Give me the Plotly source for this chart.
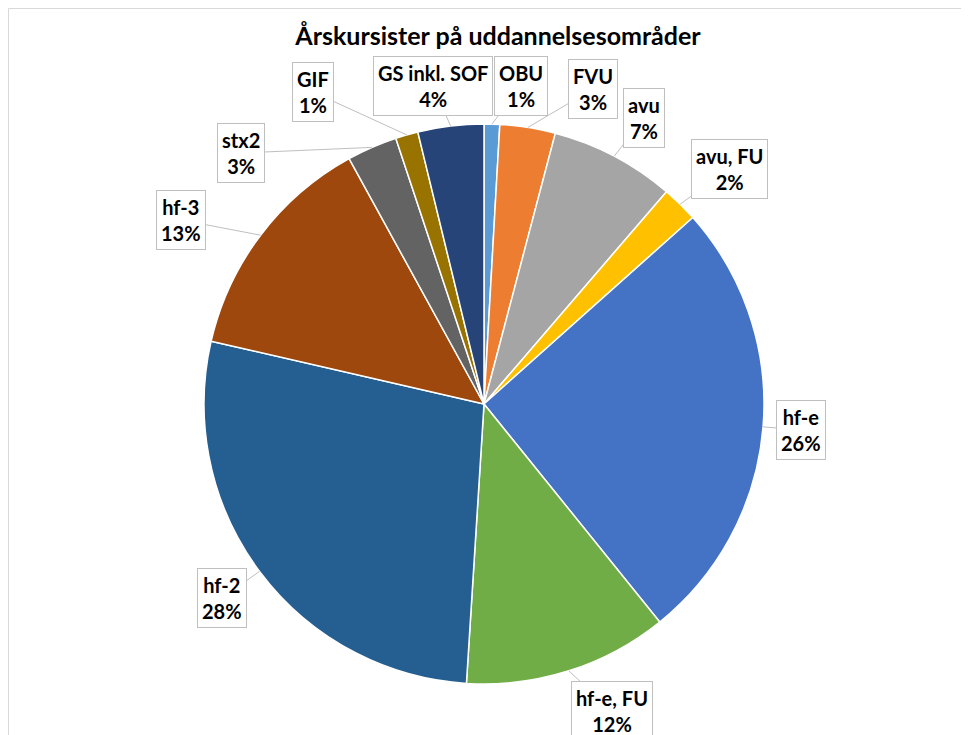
import math
import plotly.graph_objects as go

# ---- data ----
categories = ["OBU", "FVU", "avu", "avu, FU", "hf-e", "hf-e, FU",
              "hf-2", "hf-3", "stx2", "GIF", "GS inkl. SOF"]
values = [0.9, 3.2, 7.2, 2.1, 25.8, 11.8, 27.6, 13.4, 2.9, 1.3, 3.8]
colors = ["#5B9BD5", "#ED7D31", "#A5A5A5", "#FFC000", "#4472C4", "#70AD47",
          "#255E91", "#9E480E", "#636363", "#997300", "#264478"]
title_text = "Årskursister på uddannelsesområder"

# ---- layout constants (pixels, relative to figure origin) ----
W, H = 969, 735
OFF = 8  # page body margin
CX, CY, R = 484 - OFF, 404 - OFF, 280
label_pos_page = {  # label box centres in page pixels
    "OBU": (521, 86), "FVU": (593, 89), "avu": (644, 118),
    "avu, FU": (729, 169), "hf-e": (801, 430), "hf-e, FU": (612, 711),
    "hf-2": (222, 598), "hf-3": (181, 220), "stx2": (241, 153),
    "GIF": (313, 92), "GS inkl. SOF": (433, 86),
}
FONT = "Lato, 'Open Sans', sans-serif"

fig = go.Figure()
fig.add_trace(go.Pie(
    labels=categories, values=values, sort=False, direction="clockwise",
    rotation=0, textinfo="none", hoverinfo="label+percent",
    marker=dict(colors=colors, line=dict(color="white", width=1.5)),
    domain=dict(x=[(CX - R) / W, (CX + R) / W],
                y=[(H - CY - R) / H, (H - CY + R) / H]),
    showlegend=False,
))

total = sum(values)
cum = 0.0
annotations = []
for cat, v in zip(categories, values):
    mid = (cum + v / 2) / total * 2 * math.pi
    cum += v
    px = CX + R * math.sin(mid)
    py = CY - R * math.cos(mid)
    lx, ly = label_pos_page[cat]
    lx, ly = lx - OFF, ly - OFF
    pct = round(v / total * 100)
    annotations.append(dict(
        x=px / W, y=1 - py / H, xref="paper", yref="paper",
        ax=lx - px, ay=ly - py, axref="pixel", ayref="pixel",
        text=f"<b>{cat}</b><br><b>{pct}%</b>",
        showarrow=True, arrowhead=0, arrowwidth=1, arrowcolor="#BFBFBF",
        bordercolor="#BFBFBF", borderwidth=1, borderpad=4, bgcolor="white",
        font=dict(family=FONT, size=20, color="black"), align="center",
    ))

fig.update_layout(
    width=W, height=H, margin=dict(l=0, r=0, t=0, b=0),
    paper_bgcolor="white", plot_bgcolor="white",
    title=dict(text=f"<b>{title_text}</b>", x=(498 - OFF) / W, xanchor="center",
               y=1 - (36 - OFF) / H, yanchor="middle",
               font=dict(family=FONT, size=25, color="black")),
    annotations=annotations,
    shapes=[dict(type="rect", xref="paper", yref="paper",
                 x0=0.5 / W, x1=1.2, y0=-0.2, y1=1 - 0.5 / H,
                 line=dict(color="#D9D9D9", width=1), layer="below")],
)

fig.write_html("out.html")
